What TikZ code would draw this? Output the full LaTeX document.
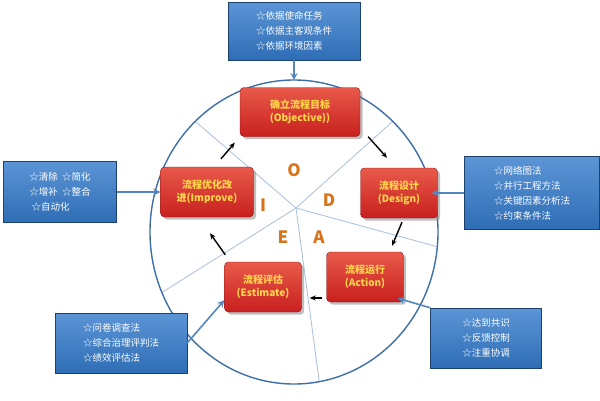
\documentclass[tikz,border=0pt]{standalone}
\usepackage{fontspec}
\setmainfont{Noto Sans CJK SC}
\usetikzlibrary{arrows.meta,shadows,calc}
\definecolor{rb}{HTML}{C8201E}
\definecolor{rt}{HTML}{E85A4A}
\definecolor{bb}{HTML}{2E6DB5}
\definecolor{bt}{HTML}{5C95D6}
\definecolor{circ}{HTML}{3E6FA8}
\definecolor{spk}{HTML}{A9BFDC}
\definecolor{yl}{HTML}{FFD84A}
\definecolor{og}{HTML}{D9731A}
\begin{document}
\begin{tikzpicture}[x=1pt,y=-1pt,
  redbox/.style={draw=rb!70!black,rounded corners=4pt,top color=rt,bottom color=rb,text=yl,font=\bfseries\fontsize{10}{13}\selectfont,align=center,inner sep=0pt,drop shadow},
  bluebox/.style={draw=bb!60!black,top color=bt,bottom color=bb,text=white,font=\fontsize{9.5}{15}\selectfont,align=left,inner sep=0pt},
  flow/.style={-{Stealth[length=6pt,width=5pt]},line width=1.4pt,black},
  feed/.style={-{Stealth[length=7pt,width=7pt]},line width=1.6pt,bt!90!black},
  let/.style={text=og,font=\bfseries\fontsize{17}{17}\selectfont},
  spoke/.style={spk,line width=0.8pt}]
\useasboundingbox (0,0) rectangle (600,400);
\fill[white] (0,0) rectangle (600,400);
\coordinate (c) at (296,208);
\coordinate (s1) at (-4,-50);
\coordinate (s2) at (584,-50);
\coordinate (s3) at (701,319);
\coordinate (s4) at (347,589);
\coordinate (s5) at (-61,433);
\begin{scope}
\clip (294,232) ellipse (144 and 152);
\draw[spoke] (c) -- (s1);
\draw[spoke] (c) -- (s2);
\draw[spoke] (c) -- (s3);
\draw[spoke] (c) -- (s4);
\draw[spoke] (c) -- (s5);
\end{scope}
\draw[circ,line width=1.4pt] (294,232) ellipse (144 and 152);
\node[let] (lo) at (294,170) {O};
\node[let] (ld) at (329,200) {D};
\node[let] (la) at (319,237) {A};
\node[let] (le) at (283,237) {E};
\node[let] (li) at (263,205) {I};
\node[redbox,minimum width=120pt,minimum height=49pt] (obj) at (300,112) {确立流程目标\\(Objective))};
\node[redbox,minimum width=77pt,minimum height=50pt] (des) at (399,193) {流程设计\\(Design)};
\node[redbox,minimum width=77pt,minimum height=50pt] (act) at (365,277) {流程运行\\(Action)};
\node[redbox,minimum width=77pt,minimum height=50pt] (est) at (263,287) {流程评估\\(Estimate)};
\node[redbox,minimum width=93pt,minimum height=50pt] (imp) at (207,192) {流程优化改\\进(Improve)};
\node[bluebox,minimum width=132pt,minimum height=58pt] (bt1) at (294,31) {☆依据使命任务\\☆依据主客观条件\\☆依据环境因素};
\node[bluebox,minimum width=113pt,minimum height=61pt] (bl1) at (60,192) {☆清除 \ ☆简化\\☆增补 \ ☆整合\\\ ☆自动化};
\node[bluebox,minimum width=135pt,minimum height=73pt] (br1) at (532,193) {☆网络图法\\☆并行工程方法\\☆关键因素分析法\\☆约束条件法};
\node[bluebox,minimum width=132pt,minimum height=60pt] (bl2) at (121,343) {☆问卷调查法\\☆综合治理评判法\\☆绩效评估法};
\node[bluebox,minimum width=111pt,minimum height=60pt] (br2) at (486,338) {☆达到共识\\☆反馈控制\\☆注重协调};
\draw[flow] ($(obj.south east)+(8,0)$) -- ($(des.north)+(-12,-10)$);
\draw[flow] ($(des.south)+(3,4)$) -- ($(act.north)+(27,-6)$);
\draw[flow] ($(act.west)+(-4,21)$) -- ($(est.east)+(8,11)$);
\draw[flow] ($(est.north west)+(1,-7)$) -- ($(imp.south)+(3,16)$);
\draw[flow] ($(imp.north)+(14,-8)$) -- ($(obj.south west)+(-5,6)$);
\draw[feed] (bt1.south) -- ($(bt1.south)+(0,20)$);
\draw[feed] (bl1.east) -- (imp.west |- bl1.east);
\draw[feed] (br1.west) -- ($(des.east)+(-6,0)$);
\draw[feed] (bl2.east) -- ($(est.south west)+(0,-12)$);
\draw[feed] (br2.north west) -- ($(act.south east)+(-6,-4)$);
\end{tikzpicture}
\end{document}
